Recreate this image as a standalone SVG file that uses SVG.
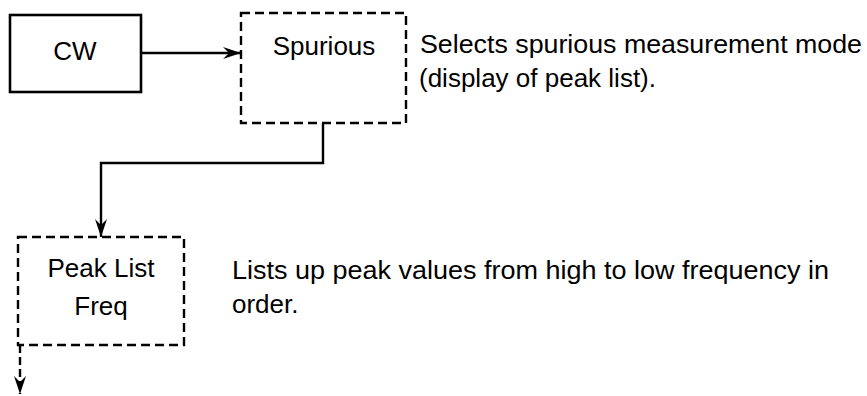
<svg xmlns="http://www.w3.org/2000/svg" width="867" height="396" viewBox="0 0 867 396">
<style>
.t{font-family:"Liberation Sans",Arial,Helvetica,sans-serif;font-size:26px;fill:#000}
.c{text-anchor:middle}
.solid{fill:none;stroke:#000;stroke-width:2.6}
.dash{fill:none;stroke:#000;stroke-width:2.4;stroke-dasharray:9 5}
.conn{fill:none;stroke:#000;stroke-width:2.4}
</style>
<defs>
<marker id="ah" viewBox="0 0 18 12" refX="18" refY="6" markerWidth="18" markerHeight="12" markerUnits="userSpaceOnUse" orient="auto">
<path d="M0,0 L18,6 L0,12 L6,6 z" fill="#000"/>
</marker>
</defs>
<g id="connectors">
<path class="conn" d="M141,53 H241" marker-end="url(#ah)"/>
<path class="conn" d="M323,123 V163 H101 V237" marker-end="url(#ah)"/>
<path class="conn" d="M20,345 V394" stroke-dasharray="8 4" marker-end="url(#ah)"/>
</g>
<g id="cw">
<rect class="solid" x="10" y="15" width="131" height="77"/>
<text class="t c" x="75" y="60">CW</text>
</g>
<g id="spurious">
<rect class="dash" x="241" y="13" width="165" height="110"/>
<text class="t c" x="324" y="55">Spurious</text>
</g>
<g id="spurious-desc">
<text class="t" x="420" y="53" textLength="442" lengthAdjust="spacingAndGlyphs">Selects spurious measurement mode</text>
<text class="t" x="419" y="87">(display of peak list).</text>
</g>
<g id="peaklist">
<rect class="dash" x="18" y="237" width="166" height="108"/>
<text class="t c" x="101" y="277">Peak List</text>
<text class="t c" x="101" y="315">Freq</text>
</g>
<g id="peaklist-desc">
<text class="t" x="232" y="279" textLength="597" lengthAdjust="spacingAndGlyphs">Lists up peak values from high to low frequency in</text>
<text class="t" x="232" y="313">order.</text>
</g>
</svg>
